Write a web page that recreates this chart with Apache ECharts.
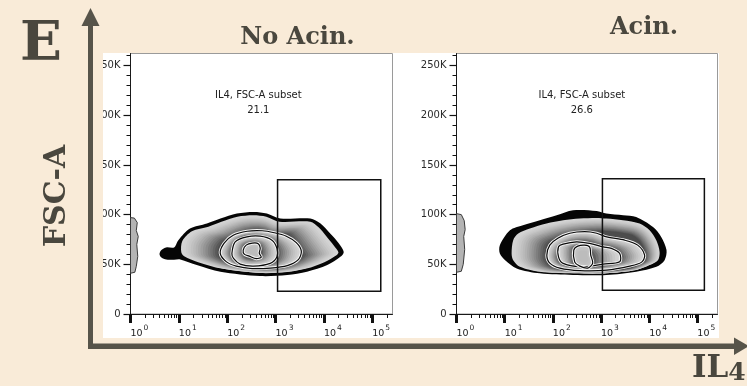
<!DOCTYPE html>
<html>
<head>
<meta charset="utf-8">
<script src="https://cdn.jsdelivr.net/npm/echarts@6/dist/echarts.min.js"></script>
<style>
  html, body { margin: 0; padding: 0; background: #f9ebd8; }
  #chart { width: 747px; height: 386px; }
</style>
</head>
<body>
<div id="chart"></div>
<script>
// ---- panel text ----
const panelTitles = ['No Acin.', 'Acin.'];
const gateName = 'IL4, FSC-A subset';
const gatePercent = ['21.1', '26.6'];

// ---- axis ticks ----
const xMajorTicks = [1, 10, 100, 1000, 10000, 100000];
const xMinorTicks = [2, 3, 4, 5, 6, 7, 8, 9,
  20, 30, 40, 50, 60, 70, 80, 90,
  200, 300, 400, 500, 600, 700, 800, 900,
  2000, 3000, 4000, 5000, 6000, 7000, 8000, 9000,
  20000, 30000, 40000, 50000, 60000, 70000, 80000, 90000,
  200000];
const yMajorTicks = [0, 50000, 100000, 150000, 200000, 250000];
const yMinorTicks = [10000, 20000, 30000, 40000, 60000, 70000, 80000, 90000,
  110000, 120000, 130000, 140000, 160000, 170000, 180000, 190000,
  210000, 220000, 230000, 240000, 260000];
const AXIS_MAX = 262144;

// ---- contour levels, points are [log10(IL4), FSC-A] ----
const noAcinLevel0 = [[0.60,60500],[0.64,64500],[0.74,67000],[0.90,67000],[0.99,74300],[1.23,86000],[1.58,91100],[1.86,96100],[2.20,101100],[2.55,102700],[2.82,101100],[3.10,96100],[3.72,96100],[3.93,91100],[4.13,81000],[4.31,71000],[4.41,62500],[4.34,57500],[4.07,49200],[3.65,42500],[3.24,39200],[2.68,38200],[1.86,42500],[1.37,49200],[1.03,54900],[0.90,54700],[0.74,54800],[0.64,56800]];
const noAcinLevel1 = [[1.05,62200],[1.07,73300],[1.27,83300],[1.61,87900],[1.88,92900],[2.21,97900],[2.54,99400],[2.81,97900],[3.08,92900],[3.72,92900],[3.89,87300],[4.05,78300],[4.20,69300],[4.30,62200],[4.26,59200],[4.01,52200],[3.64,45700],[3.24,42200],[2.68,41200],[1.88,45700],[1.40,52200],[1.11,58200]];
const noAcinLevel2 = [[1.855,61200],[1.937,71300],[2.124,79300],[2.414,83300],[2.725,83800],[2.973,81800],[3.222,78300],[3.429,71800],[3.533,63300],[3.471,54700],[3.243,48700],[2.89,46200],[2.518,45700],[2.186,48200],[1.979,52700]];
const noAcinLevel3 = [[2.097,60900],[2.165,72600],[2.408,77600],[2.683,78300],[2.926,74300],[3.029,66000],[3.029,57500],[2.89,50900],[2.545,48200],[2.269,50200],[2.13,55900]];
const noAcinLevel4 = [[2.331,64300],[2.393,69300],[2.518,71300],[2.642,70800],[2.683,66300],[2.663,61200],[2.704,57200],[2.6,55700],[2.455,58200],[2.352,60200]];
const noAcinAtZero = [[0.0,97000],[0.08,96500],[0.14,92000],[0.12,84000],[0.16,78000],[0.13,70000],[0.15,58000],[0.12,48000],[0.09,42000],[0.0,41000]];

const acinLevel0 = [[0.90,69300],[1.11,84300],[1.38,89400],[1.73,94400],[2.08,99400],[2.42,104400],[2.91,103700],[3.11,101100],[3.46,99400],[3.73,97700],[4.08,87600],[4.25,77600],[4.36,64300],[4.32,54200],[4.15,47500],[3.73,42500],[3.11,39200],[2.42,39200],[1.73,40900],[1.25,45900],[1.01,54200],[0.90,60900]];
const acinLevel1 = [[1.144,60900],[1.177,74300],[1.281,81000],[1.523,86000],[1.869,91100],[2.213,94400],[2.559,96100],[2.905,96700],[3.112,96100],[3.456,94400],[3.802,91100],[4.009,84300],[4.148,74300],[4.217,62500],[4.182,54200],[4.009,49200],[3.734,44200],[3.112,40900],[2.42,40900],[1.73,42500],[1.316,47500],[1.177,54200]];
const acinLevel2 = [[1.875,59200],[1.937,69300],[2.103,76300],[2.352,81300],[2.663,82800],[2.911,81300],[3.119,77600],[3.492,74300],[3.761,69300],[3.906,59200],[3.844,52200],[3.596,48200],[3.119,44200],[2.559,43700],[2.145,46200],[1.937,51200]];
const acinLevel3 = [[2.118,57500],[2.118,67600],[2.213,70300],[2.491,72600],[2.766,71000],[3.042,67600],[3.216,66000],[3.388,60900],[3.388,52500],[3.042,50200],[2.627,47500],[2.213,50900]];
const acinLevel4 = [[2.435,64300],[2.518,68300],[2.663,69300],[2.766,67300],[2.787,59200],[2.828,51200],[2.725,46200],[2.559,48200],[2.455,52200]];
const acinAtZero = [[0.0,101000],[0.10,100000],[0.16,94000],[0.18,85000],[0.15,78000],[0.17,65000],[0.14,50000],[0.10,43000],[0.0,42000]];

// ---- gates: [IL4 low, IL4 high], [FSC-A low, FSC-A high] ----
const noAcinGateX = [1100, 150000];
const noAcinGateY = [23000, 135000];
const acinGateX = [1070, 140000];
const acinGateY = [24000, 136000];
// gate label anchor [IL4, FSC-A]
const gateLabelAt = [[440, 212000], [400, 212000]];

const panels = [
  { levels: [noAcinLevel0, noAcinLevel1, noAcinLevel2, noAcinLevel3, noAcinLevel4], zero: noAcinAtZero, gx: noAcinGateX, gy: noAcinGateY },
  { levels: [acinLevel0, acinLevel1, acinLevel2, acinLevel3, acinLevel4], zero: acinAtZero, gx: acinGateX, gy: acinGateY }
];

const BG = '#f9ebd8';
const INK = '#4a473e';
const FONT = '"DejaVu Sans", sans-serif';
const SERIF = '"DejaVu Serif", serif';

function mixGray(a, b, t) {
  const v = Math.round(a + (b - a) * t);
  return 'rgb(' + v + ',' + v + ',' + v + ')';
}
function box(pts) {
  let x0 = Infinity, x1 = -Infinity, y0 = Infinity, y1 = -Infinity;
  pts.forEach(p => { x0 = Math.min(x0, p[0]); x1 = Math.max(x1, p[0]); y0 = Math.min(y0, p[1]); y1 = Math.max(y1, p[1]); });
  return { cx: (x0 + x1) / 2, cy: (y0 + y1) / 2, w: x1 - x0, h: y1 - y0 };
}
// zebra shading of the band between an outer and an inner contour (pixel space)
function zebraBand(outer, inner, light, dark, steps, gamma) {
  const a = box(outer), b = box(inner);
  const sx = b.w / a.w, sy = b.h / a.h;
  const out = [];
  for (let i = 0; i < steps; i++) {
    const t = i / steps;
    const pts = outer.map(p => {
      const mx = b.cx + (p[0] - a.cx) * sx;
      const my = b.cy + (p[1] - a.cy) * sy;
      return [p[0] + (mx - p[0]) * t, p[1] + (my - p[1]) * t];
    });
    out.push({ type: 'polygon', shape: { points: pts, smooth: 0.3 }, style: { fill: mixGray(light, dark, Math.pow(t, gamma)) } });
  }
  return out;
}

function renderPanel(pi, api) {
  const P = panels[pi];
  const px = pts => pts.map(p => api.coord([Math.pow(10, p[0]), p[1]]));
  const L = P.levels.map(px);
  const children = [];
  // outermost level in solid black
  children.push({ type: 'polygon', shape: { points: L[0], smooth: 0.3 }, style: { fill: '#050505' } });
  children.push(...zebraBand(L[1], L[2], 212, 62, 16, 1.5));
  children.push(...zebraBand(L[2], L[3], 212, 70, 12, 1.5));
  children.push(...zebraBand(L[3], L[4], 212, 75, 10, 1.5));
  const c4 = box(L[4]);
  const core = L[4].map(p => [c4.cx + (p[0] - c4.cx) * 0.4, c4.cy + (p[1] - c4.cy) * 0.4]);
  children.push(...zebraBand(L[4], core, 200, 185, 5, 1));
  // contour lines
  [L[2], L[3], L[4]].forEach(r => {
    children.push({ type: 'polygon', shape: { points: r, smooth: 0.3 }, style: { fill: 'none', stroke: '#f6f6f6', lineWidth: 3 } });
    children.push({ type: 'polygon', shape: { points: r, smooth: 0.3 }, style: { fill: 'none', stroke: '#0a0a0a', lineWidth: 1.2 } });
  });
  // events piled up at the low end of the IL4 scale
  children.push({ type: 'polygon', shape: { points: px(P.zero) }, style: { fill: '#b4b4b4', stroke: '#3a3a3a', lineWidth: 1 } });
  // gate
  const g0 = api.coord([P.gx[0], P.gy[1]]);
  const g1 = api.coord([P.gx[1], P.gy[0]]);
  children.push({ type: 'rect', shape: { x: g0[0], y: g0[1], width: g1[0] - g0[0], height: g1[1] - g0[1] },
    style: { fill: 'none', stroke: '#111', lineWidth: 1.5 } });
  const lp = api.coord(gateLabelAt[pi]);
  children.push({ type: 'text', x: lp[0], y: lp[1], style: { text: gateName + '\n' + gatePercent[pi],
    align: 'center', verticalAlign: 'middle', font: '10px ' + FONT, fill: '#222', lineHeight: 15 } });
  return { type: 'group', children: children };
}

const gridDefs = [
  { left: 130.5, top: 53.5, width: 262, height: 260.5 },
  { left: 456.5, top: 53.5, width: 261, height: 260.5 }
];

const xAxis = [], yAxis = [], series = [];
gridDefs.forEach((g, gi) => {
  xAxis.push({
    type: 'log', logBase: 10, gridIndex: gi, min: 1, max: AXIS_MAX, position: 'bottom',
    axisLine: { show: true, onZero: false, lineStyle: { color: '#1a1a1a', width: 1 } },
    axisTick: { show: true, customValues: xMajorTicks, length: 9, lineStyle: { color: '#111', width: 3 } },
    axisLabel: {
      show: true, customValues: xMajorTicks, align: 'left', margin: 9,
      formatter: v => '{b|10}{s|' + Math.round(Math.log10(v)) + '}',
      rich: {
        b: { fontSize: 9.5, fontFamily: FONT, color: '#222', padding: [6, 0, 0, 0] },
        s: { fontSize: 7.5, fontFamily: FONT, color: '#222', padding: [0, 0, 6, 1] }
      }
    },
    splitLine: { show: false }
  });
  xAxis.push({
    type: 'log', logBase: 10, gridIndex: gi, min: 1, max: AXIS_MAX, position: 'bottom',
    axisLine: { show: false },
    axisTick: { show: true, customValues: xMinorTicks, length: 4, lineStyle: { color: '#111', width: 1 } },
    axisLabel: { show: false }, splitLine: { show: false }
  });
  yAxis.push({
    type: 'value', gridIndex: gi, min: 0, max: AXIS_MAX, position: 'left',
    axisLine: { show: true, onZero: false, lineStyle: { color: '#1a1a1a', width: 1 } },
    axisTick: { show: true, customValues: yMajorTicks, length: 7, lineStyle: { color: '#111', width: 1.2 } },
    axisLabel: {
      show: true, customValues: yMajorTicks, margin: 10, fontSize: 10, fontFamily: FONT, color: '#2a2a2a',
      formatter: v => (v === 0 ? '0' : (v / 1000) + 'K')
    },
    splitLine: { show: false }
  });
  yAxis.push({
    type: 'value', gridIndex: gi, min: 0, max: AXIS_MAX, position: 'left',
    axisLine: { show: false },
    axisTick: { show: true, customValues: yMinorTicks, length: 4, lineStyle: { color: '#111', width: 1 } },
    axisLabel: { show: false }, splitLine: { show: false }
  });
  series.push({
    type: 'custom', name: panelTitles[gi], coordinateSystem: 'cartesian2d',
    xAxisIndex: gi * 2, yAxisIndex: gi * 2, clip: true, silent: true,
    data: [[1000, 100000]],
    renderItem: (params, api) => renderPanel(gi, api)
  });
});

const option = {
  backgroundColor: BG,
  animation: false,
  grid: gridDefs.map(g => Object.assign({ show: true, borderColor: '#9a9a9a', borderWidth: 1, backgroundColor: 'transparent', containLabel: false }, g)),
  xAxis: xAxis,
  yAxis: yAxis,
  series: series,
  graphic: [
    // white plotting sheet
    { type: 'rect', z: -5, shape: { x: 103, y: 53, width: 616, height: 285 }, style: { fill: '#ffffff' } },
    // left margin of the sheet trims the first panel's tick labels
    { type: 'rect', z: 50, shape: { x: 94, y: 53, width: 9, height: 285 }, style: { fill: BG } },
    // axis arrows
    { type: 'rect', z: 60, shape: { x: 88, y: 22, width: 5, height: 327 }, style: { fill: '#57544a' } },
    { type: 'polygon', z: 60, shape: { points: [[81.5, 26], [90.5, 8], [99.5, 26]] }, style: { fill: '#57544a' } },
    { type: 'rect', z: 60, shape: { x: 88, y: 343.5, width: 650, height: 5.5 }, style: { fill: '#57544a' } },
    { type: 'polygon', z: 60, shape: { points: [[734, 337.5], [749, 346.2], [734, 355]] }, style: { fill: '#57544a' } },
    // headings
    { type: 'text', z: 60, x: 20, y: 46, style: { text: 'E', font: 'bold 55px ' + SERIF, fill: INK, verticalAlign: 'middle' } },
    { type: 'text', z: 60, x: 297.5, y: 38, style: { text: panelTitles[0], font: 'bold 24px ' + SERIF, fill: INK, align: 'center', verticalAlign: 'middle' } },
    { type: 'text', z: 60, x: 644, y: 28, style: { text: panelTitles[1], font: 'bold 24px ' + SERIF, fill: INK, align: 'center', verticalAlign: 'middle' } },
    { type: 'text', z: 60, x: 57, y: 196, rotation: Math.PI / 2, style: { text: 'FSC-A', font: 'bold 30px ' + SERIF, fill: INK, align: 'center', verticalAlign: 'middle' } },
    { type: 'text', z: 60, x: 692, y: 369, style: { text: '{a|IL}{b|4}', fill: INK, verticalAlign: 'middle',
      rich: { a: { font: 'bold 31px ' + SERIF, fill: INK, color: INK }, b: { font: 'bold 25px ' + SERIF, color: INK, padding: [8, 0, 0, 0] } } } }
  ]
};

const chart = echarts.init(document.getElementById('chart'), null, { renderer: 'canvas' });
chart.setOption(option);
</script>
</body>
</html>
